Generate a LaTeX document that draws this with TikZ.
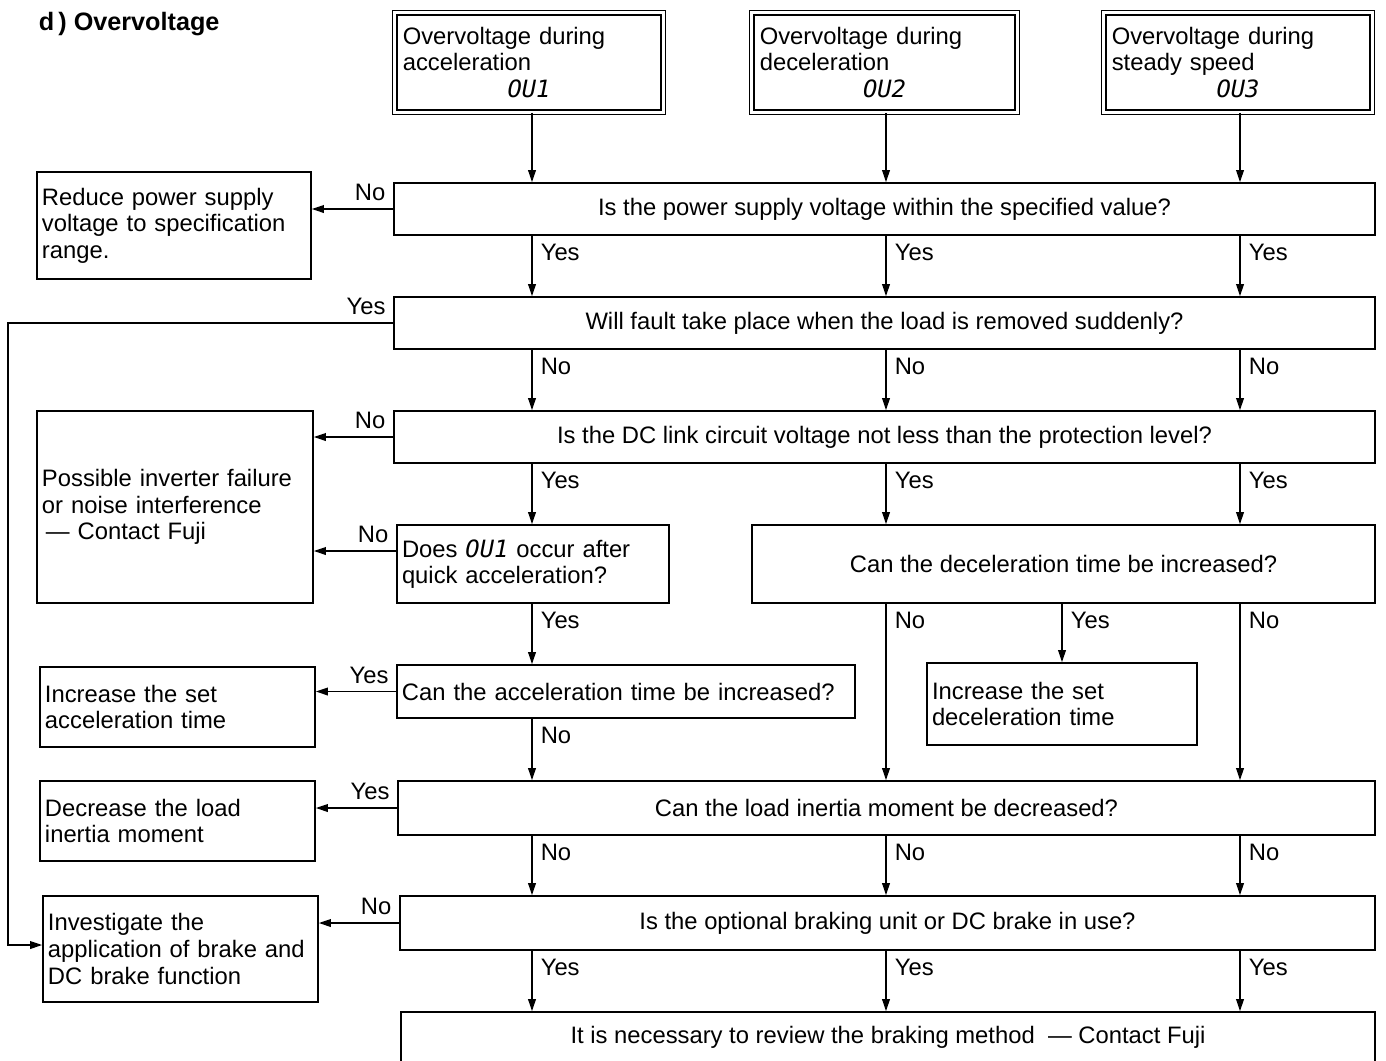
\documentclass[tikz,border=0pt]{standalone}
\usepackage{fontspec}
\setmainfont{Liberation Sans}
\newfontfamily\segfont{DejaVu Sans Mono}
\usetikzlibrary{arrows.meta}
\newcommand\fs{\fontsize{11.9bp}{13.3bp}\selectfont}
\newcommand\segcode[1]{{\segfont\itshape #1}}
\begin{document}
\begin{tikzpicture}[x=0.5bp,y=-0.5bp,line width=0.8bp,>={Triangle[length=6bp,width=3.8bp]}]
  \tikzset{qbox/.style={draw,rectangle,inner sep=0pt,font=\fs,align=center},
    lbox/.style={draw,rectangle,inner xsep=2.5bp,inner ysep=0pt,font=\fs,align=left},
    tbox/.style={lbox,double,line width=0.6bp,double distance=1.6bp,inner xsep=4bp},
    dlbl/.style={font=\fs,inner sep=1.5bp,anchor=north west,xshift=2.5bp,yshift=-2.5bp},
    llbl/.style={font=\fs,inner sep=1.5bp,anchor=south east,xshift=-2bp,yshift=2bp}}
  \useasboundingbox (0,0) rectangle (1386,1060);
  \node[font=\fontsize{12.6bp}{14bp}\selectfont\bfseries,anchor=west,inner sep=0pt] (ttl) at (38,24) {d\,) Overvoltage};
  % fault displays
  \node[tbox,text width=126.2bp,minimum height=49.7bp] (t1) at (529,62.5) {Overvoltage during\\acceleration\\\makebox[\hsize]{\segcode{OU1}}};
  \node[tbox,text width=124.7bp,minimum height=49.7bp] (t2) at (884.5,62.5) {Overvoltage during\\deceleration\\\makebox[\hsize]{\segcode{OU2}}};
  \node[tbox,text width=126.2bp,minimum height=49.7bp] (t3) at (1238,62.5) {Overvoltage during\\steady speed\\\makebox[\hsize]{\segcode{OU3}}};
  % questions
  \node[qbox,minimum width=490.5bp,minimum height=26bp] (q1) at (884.5,209) {Is the power supply voltage within the specified value?};
  \node[qbox,minimum width=490.5bp,minimum height=26bp] (q2) at (884.5,323) {Will fault take place when the load is removed suddenly?};
  \node[qbox,minimum width=490.5bp,minimum height=26bp] (q3) at (884.5,437) {Is the DC link circuit voltage not less than the protection level?};
  \node[lbox,text width=131bp,minimum height=39bp] (q4) at (533,564) {Does \segcode{OU1} occur after\\quick acceleration?};
  \node[qbox,minimum width=311.5bp,minimum height=39bp] (q5) at (1063.5,564) {Can the deceleration time be increased?};
  \node[lbox,text width=224bp,minimum height=26.5bp] (q6) at (626,691.5) {Can the acceleration time be increased?};
  \node[qbox,minimum width=488.5bp,minimum height=27bp] (q7) at (886.5,808) {Can the load inertia moment be decreased?};
  \node[qbox,minimum width=487.5bp,minimum height=27bp] (q8) at (887.5,923) {Is the optional braking unit or DC brake in use?};
  \node[qbox,minimum width=487bp,minimum height=25bp] (q9) at (888,1037) {It is necessary to review the braking method \ --- Contact Fuji};
  % remedies
  \node[lbox,text width=132bp,minimum height=53.5bp] (r1) at (174,225.5) {Reduce power supply\\voltage to specification\\range.};
  \node[lbox,text width=133bp,minimum height=96bp] (r3) at (175,507) {Possible inverter failure\\or noise interference\\\hspace*{2bp}--- Contact Fuji};
  \node[lbox,text width=130bp,minimum height=41bp] (r5) at (1062,704) {Increase the set\\deceleration time};
  \node[lbox,text width=132.5bp,minimum height=40bp] (r6) at (177.5,707) {Increase the set\\acceleration time};
  \node[lbox,text width=132.5bp,minimum height=40bp] (r7) at (177.5,821) {Decrease the load\\inertia moment};
  \node[lbox,text width=132.5bp,minimum height=53bp] (r8) at (180.5,949) {Investigate the\\application of brake and\\DC brake function};
  \coordinate (ca) at (532,0);
  \coordinate (cb) at (886,0);
  \coordinate (cc) at (1240,0);
  \coordinate (lp) at (8,0);
  % connectors
  \draw[->] (t1.south -| ca) -- (q1.north -| ca);
  \draw[->] (t2.south -| cb) -- (q1.north -| cb);
  \draw[->] (t3.south -| cc) -- (q1.north -| cc);
  \draw[->] (q1.west) -- (q1.west -| r1.east) node[llbl,pos=0] {No};
  \draw[->] (q1.south -| ca) -- (q2.north -| ca) node[dlbl,pos=0] {Yes};
  \draw[->] (q1.south -| cb) -- (q2.north -| cb) node[dlbl,pos=0] {Yes};
  \draw[->] (q1.south -| cc) -- (q2.north -| cc) node[dlbl,pos=0] {Yes};
  \draw[->] (q2.west) -- (q2.west -| lp) node[llbl,pos=0] {Yes} |- ([yshift=2bp]r8.west);
  \draw[->] (q2.south -| ca) -- (q3.north -| ca) node[dlbl,pos=0] {No};
  \draw[->] (q2.south -| cb) -- (q3.north -| cb) node[dlbl,pos=0] {No};
  \draw[->] (q2.south -| cc) -- (q3.north -| cc) node[dlbl,pos=0] {No};
  \draw[->] (q3.west) -- (q3.west -| r3.east) node[llbl,pos=0] {No};
  \draw[->] (q3.south -| ca) -- (q4.north -| ca) node[dlbl,pos=0] {Yes};
  \draw[->] (q3.south -| cb) -- (q5.north -| cb) node[dlbl,pos=0] {Yes};
  \draw[->] (q3.south -| cc) -- (q5.north -| cc) node[dlbl,pos=0] {Yes};
  \draw[->] ([yshift=6.5bp]q4.west) -- ([yshift=6.5bp]q4.west -| r3.east) node[llbl,pos=0] {No};
  \draw[->] (q4.south -| ca) -- (q6.north -| ca) node[dlbl,pos=0] {Yes};
  \draw[->] (q6.west) -- (q6.west -| r6.east) node[llbl,pos=0] {Yes};
  \draw[->] (q6.south -| ca) -- (q7.north -| ca) node[dlbl,pos=0] {No};
  \draw[->] (q5.south -| cb) -- (q7.north -| cb) node[dlbl,pos=0] {No};
  \draw[->] (r5.north |- q5.south) -- (r5.north) node[dlbl,pos=0] {Yes};
  \draw[->] (q5.south -| cc) -- (q7.north -| cc) node[dlbl,pos=0] {No};
  \draw[->] (q7.west) -- (q7.west -| r7.east) node[llbl,pos=0] {Yes};
  \draw[->] (q7.south -| ca) -- (q8.north -| ca) node[dlbl,pos=0] {No};
  \draw[->] (q7.south -| cb) -- (q8.north -| cb) node[dlbl,pos=0] {No};
  \draw[->] (q7.south -| cc) -- (q8.north -| cc) node[dlbl,pos=0] {No};
  \draw[->] (q8.west) -- (q8.west -| r8.east) node[llbl,pos=0] {No};
  \draw[->] (q8.south -| ca) -- (q9.north -| ca) node[dlbl,pos=0] {Yes};
  \draw[->] (q8.south -| cb) -- (q9.north -| cb) node[dlbl,pos=0] {Yes};
  \draw[->] (q8.south -| cc) -- (q9.north -| cc) node[dlbl,pos=0] {Yes};
\end{tikzpicture}
\end{document}
